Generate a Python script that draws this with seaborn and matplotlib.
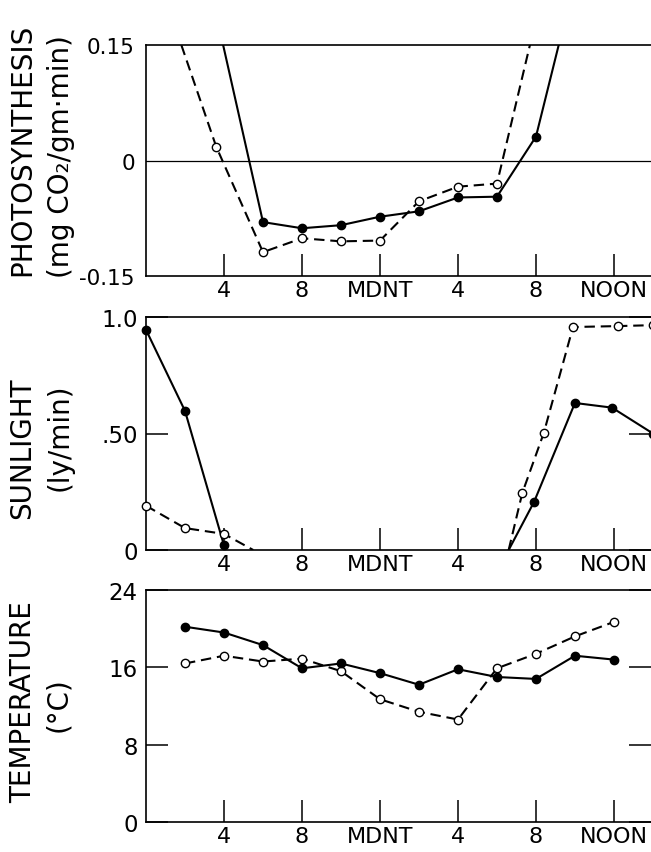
import matplotlib
matplotlib.use('Agg')
import matplotlib.pyplot as plt
import seaborn as sns

sns.set_style('white')
plt.rcParams['font.family'] = ['DejaVu Sans']
plt.rcParams['axes.edgecolor'] = 'black'
plt.rcParams['text.color'] = 'black'
plt.rcParams['xtick.color'] = 'black'
plt.rcParams['ytick.color'] = 'black'

# hours counted from noon of the first day
hour_ticks = [4, 8, 12, 16, 20, 24]
hour_labels = ['4', '8', 'MDNT', '4', '8', 'NOON']

# photosynthesis, first and last values run off the top of the frame
photo_filled_hours = [2, 6, 8, 10, 12, 14, 16, 18, 20, 22]
photo_filled = [0.37, -0.080, -0.088, -0.084, -0.073, -0.066, -0.048, -0.047, 0.031, 0.235]
photo_open_hours = [1, 3.6, 6, 8, 10, 12, 14, 16, 18, 20]
photo_open = [0.21, 0.018, -0.119, -0.101, -0.105, -0.104, -0.053, -0.034, -0.030, 0.183]

# sunlight (ly/min); curves drop to 0 at dusk and leave 0 at dawn
sun_filled_hours = [0, 2, 4, 19.9, 22, 23.9, 26]
sun_filled = [0.945, 0.597, 0.02, 0.206, 0.631, 0.611, 0.50]
sun_open_hours = [0, 2, 4, 19.3, 20.4, 21.9, 24.2, 26]
sun_open = [0.19, 0.094, 0.069, 0.245, 0.502, 0.957, 0.961, 0.965]
open_dusk = 5.5
dawn = 18.6

# temperature (deg C)
temp_hours = [2, 4, 6, 8, 10, 12, 14, 16, 18, 20, 22, 24]
temp_filled = [20.2, 19.6, 18.3, 15.9, 16.4, 15.4, 14.2, 15.8, 15.0, 14.8, 17.2, 16.8]
temp_open = [16.4, 17.2, 16.6, 16.9, 15.6, 12.7, 11.4, 10.6, 15.9, 17.4, 19.2, 20.7]

DASH = (0, (5, 2.8))


def series(ax, hours, values, filled, pieces=None, clip=True):
    if pieces is None:
        pieces = [(hours, values)]
    ls = '-' if filled else DASH
    for ph, pv in pieces:
        sns.lineplot(x=ph, y=pv, ax=ax, color='black', lw=1.5, linestyle=ls,
                     sort=False, estimator=None)
    sns.scatterplot(x=hours, y=values, ax=ax, s=36,
                    color='black' if filled else 'white',
                    edgecolor='black', linewidth=1.0, zorder=3, clip_on=clip)


fig = plt.figure(figsize=(6.51, 8.53), dpi=100)
W, H = 651, 853
left = 146


def make_ax(top, bottom):
    return fig.add_axes([left / W, (H - bottom) / H, 1 - left / W, (bottom - top) / H])


ax1 = make_ax(46, 277)
ax2 = make_ax(318, 551)
ax3 = make_ax(591, 823)

# panel 1
ax1.axhline(0, color='black', lw=0.9)
series(ax1, photo_open_hours, photo_open, False)
series(ax1, photo_filled_hours, photo_filled, True)
ax1.set_ylim(-0.15, 0.15)
ax1.set_yticks([-0.15, 0, 0.15])
ax1.set_yticklabels(['-0.15', '0', '0.15'])

# panel 2
n = 3
series(ax2, sun_open_hours, sun_open, False, clip=False,
       pieces=[(sun_open_hours[:n] + [open_dusk], sun_open[:n] + [0]),
               ([dawn] + sun_open_hours[n:], [0] + sun_open[n:])])
series(ax2, sun_filled_hours, sun_filled, True, clip=False,
       pieces=[(sun_filled_hours[:n], sun_filled[:n]),
               ([dawn] + sun_filled_hours[n:], [0] + sun_filled[n:])])
ax2.set_ylim(0, 1.0)
ax2.set_yticks([0, 0.5, 1.0])
ax2.set_yticklabels(['0', '.50', '1.0'])

# panel 3
series(ax3, temp_hours, temp_open, False, clip=False)
series(ax3, temp_hours, temp_filled, True, clip=False)
ax3.set_ylim(0, 24)
ax3.set_yticks([0, 8, 16, 24])
ax3.set_yticklabels(['0', '8', '16', '24'])

for i, ax in enumerate([ax1, ax2, ax3]):
    ax.set_xlim(0, 25.9)
    ax.set_xticks(hour_ticks)
    ax.set_xticklabels(hour_labels)
    ax.set_xlabel('')
    ax.set_ylabel('')
    ax.spines['right'].set_visible(False)
    for s in ['left', 'top', 'bottom']:
        ax.spines[s].set_linewidth(1.2)
    ax.tick_params(axis='x', direction='in', length=16, width=1.1,
                   bottom=True, top=False, labelsize=16, pad=3)
    if i == 0:
        ax.tick_params(axis='y', length=0, labelsize=15.5, pad=8)
    else:
        ax.tick_params(axis='y', direction='in', length=16, width=1.1,
                       left=True, right=True, labelsize=16.5, pad=6)

lab = dict(rotation=90, ha='center', va='center', fontsize=20)
fig.text(22 / W, 1 - 150 / H, 'PHOTOSYNTHESIS', **lab)
fig.text(61 / W, 1 - 157 / H, '(mg CO₂/gm·min)', **lab)
fig.text(22 / W, 1 - 448 / H, 'SUNLIGHT', **lab)
fig.text(60 / W, 1 - 437 / H, '(ly/min)', **lab)
fig.text(23 / W, 1 - 702 / H, 'TEMPERATURE', **lab)
fig.text(58 / W, 1 - 705 / H, '(°C)', **lab)

fig.savefig('out.png', dpi=100, facecolor='white')
